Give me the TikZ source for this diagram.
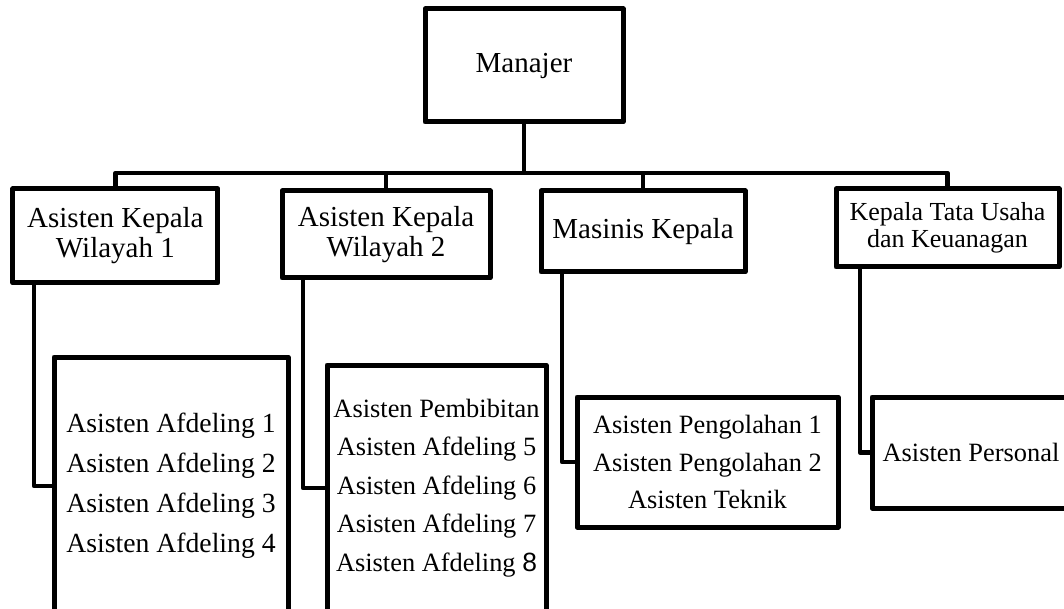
\documentclass[tikz,border=0pt]{standalone}
\usepackage{fontspec}
\setmainfont{Liberation Serif}
\setsansfont{Liberation Sans}
\usetikzlibrary{positioning,calc}

\begin{document}
\begin{tikzpicture}[x=1pt,y=-1pt,
  box/.style={draw,line width=5pt,line join=round,outer sep=0pt,inner sep=0pt,align=center},
  topfont/.style={font=\fontsize{29}{30}\selectfont},
  subfont/.style={font=\fontsize{26.4}{38.5}\selectfont},
  link/.style={line width=4.5pt,line join=round}]
\useasboundingbox (0,0) rectangle (1064,609);
\clip (0,0) rectangle (1064,609);
% pimpinan
\node[box,topfont,minimum width=198pt,minimum height=113pt] (manajer) at (524,65.5) {Manajer};
% baris kepala
\node[box,topfont,minimum width=205pt,minimum height=94pt] (akw1) at (115.4,236) {Asisten Kepala\\Wilayah 1};
\node[box,topfont,minimum width=208pt,minimum height=87pt] (akw2) at (386,234.5) {Asisten Kepala\\Wilayah 2};
\node[box,topfont,minimum width=204pt,minimum height=81pt] (masinis) at (643,231.5) {Masinis Kepala};
\node[box,font=\fontsize{26}{26.5}\selectfont,minimum width=223pt,minimum height=78pt] (ktu) at (947.5,228) {Kepala Tata Usaha\\dan Keuanagan};
% baris asisten
\node[box,font=\fontsize{27.7}{40}\selectfont,minimum width=234pt,minimum height=258pt] (afd1) at (171,486)
  {Asisten Afdeling 1\\Asisten Afdeling 2\\Asisten Afdeling 3\\Asisten Afdeling 4};
\node[box,subfont,minimum width=219pt,minimum height=246pt] (afd2) at (436.5,488)
  {Asisten Pembibitan\\Asisten Afdeling 5\\Asisten Afdeling 6\\Asisten Afdeling 7\\Asisten Afdeling {\sffamily 8}};
\node[box,font=\fontsize{26.4}{37.5}\selectfont,minimum width=261pt,minimum height=130pt] (olah) at (707.5,462)
  {Asisten Pengolahan 1\\Asisten Pengolahan 2\\Asisten Teknik};
\node[box,subfont,minimum width=198pt,minimum height=111pt] (personal) at (971,452.5) {Asisten Personal};
% garis komando
\coordinate (bus) at (524,173);
\draw[link] (manajer.south) -- (bus);
\draw[link] (akw1.north) |- (bus) -| (ktu.north);
\draw[link] (akw2.north) -- (akw2.north |- bus);
\draw[link] (masinis.north) -- (masinis.north |- bus);
\draw[link] ([xshift=21pt]akw1.south west) |- (afd1.west);
\draw[link] ([xshift=21pt]akw2.south west) |- (afd2.west);
\draw[link] ([xshift=21pt]masinis.south west) |- (olah.west);
\draw[link] ([xshift=24pt]ktu.south west) |- (personal.west);
\end{tikzpicture}
\end{document}
